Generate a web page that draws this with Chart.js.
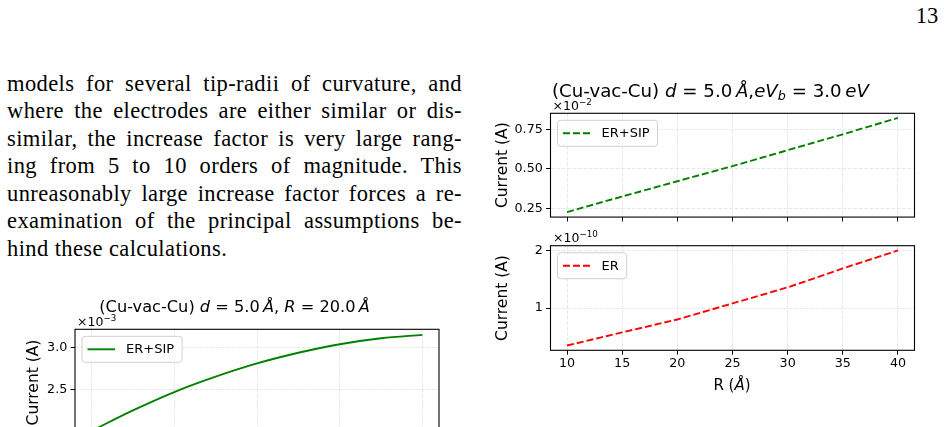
<!DOCTYPE html>
<html lang="en">
<head>
  <meta charset="UTF-8" />
  <title>Cu-vac-Cu tunnelling current</title>
  <script src="https://cdn.jsdelivr.net/npm/chart.js"></script>
  <style>
    html, body { margin: 0; padding: 0; background: #fff; }
    body { width: 944px; height: 427px; overflow: hidden; position: relative; }
    .page { position: absolute; font-family: 'Liberation Serif', serif; font-size: 22.5px; line-height: 27.5px; color: #000; }
    .bodytext { left: 7px; top: 69.6px; width: 455px; }
    .bodytext .line { white-space: nowrap; letter-spacing: 0.4px; }
    .pgnum { left: 880px; top: 1.6px; width: 58.3px; text-align: right; }
    .lbl { position: absolute; font-family: 'DejaVu Sans', sans-serif; white-space: nowrap; color: #000; }
    .ttl { font-size: 18.2px; line-height: 22px; }
    .ttl.small { font-size: 16.2px; line-height: 20px; }
    .off { font-size: 12.5px; line-height: 15px; }
    .axt { font-size: 15px; line-height: 18px; }
    sup { font-size: 0.7em; line-height: 0; vertical-align: 0.55em; }
    sub { font-size: 0.7em; line-height: 0; vertical-align: -0.25em; }
    canvas { position: absolute; }
  </style>
</head>
<body>

  <!-- page text -->
  <div class="page pgnum">13</div>
  <div class="page bodytext">
    <div class="line"><span>models for several tip-radii of curvature, and</span></div>
    <div class="line"><span>where the electrodes are either similar or dis-</span></div>
    <div class="line"><span>similar, the increase factor is very large rang-</span></div>
    <div class="line"><span>ing from 5 to 10 orders of magnitude.  This</span></div>
    <div class="line"><span>unreasonably large increase factor forces a re-</span></div>
    <div class="line"><span>examination of the principal assumptions be-</span></div>
    <div class="line last"><span>hind these calculations.</span></div>
  </div>

  <!-- charts -->
  <canvas id="erSipChart" width="450" height="130" style="left:480px;top:98px"></canvas>
  <canvas id="erChart" width="450" height="150" style="left:480px;top:230px"></canvas>
  <canvas id="biasChart" width="455" height="170" style="left:0px;top:314px"></canvas>

  <!-- titles, offsets, x label -->
  <div class="lbl ttl" style="left:552px;top:80px">(Cu-vac-Cu) <i>d</i> = 5.0&thinsp;<i>Å</i>,<i>eV</i><sub><i>b</i></sub> = 3.0&thinsp;<i>eV</i></div>
  <div class="lbl off" style="left:552.5px;top:97.8px">×10<sup>−2</sup></div>
  <div class="lbl off" style="left:553px;top:230.2px">×10<sup>−10</sup></div>
  <div class="lbl axt" style="left:682px;top:376px;width:100px;text-align:center">R (<i>Å</i>)</div>
  <div class="lbl ttl small" style="left:99.3px;top:296.7px">(Cu-vac-Cu) <i>d</i> = 5.0&thinsp;<i>Å</i>, <i>R</i> = 20.0&thinsp;<i>Å</i></div>
  <div class="lbl off" style="left:77px;top:313.8px">×10<sup>−3</sup></div>

  <script>
    // --- data (currents in units of the axis offset) ---
    const rValues = [10, 15, 20, 25, 30, 35, 40];                    // R (Å)
    const currentErSip = [0.229, 0.327, 0.423, 0.518, 0.618, 0.718, 0.821]; // x1e-2 A
    const currentEr = [0.345, 0.575, 0.80, 1.08, 1.36, 1.69, 2.004];        // x1e-10 A
    const biasValues = [1, 1.5, 2, 2.5, 3, 3.5, 4, 4.5, 5];
    const currentBias = [2.02, 2.26, 2.475, 2.655, 2.81, 2.935, 3.035, 3.105, 3.145]; // x1e-3 A

    // --- tick values / labels ---
    const rTicks = [10, 15, 20, 25, 30, 35, 40];
    const rTickLabels = ['10', '15', '20', '25', '30', '35', '40'];
    const erSipTicks = [0.25, 0.5, 0.75];
    const erSipTickLabels = ['0.25', '0.50', '0.75'];
    const erTicks = [1, 2];
    const erTickLabels = ['1', '2'];
    const biasTicks = [1, 2, 3, 4, 5];
    const biasTickLabels = ['1', '2', '3', '4', '5'];
    const biasYTicks = [2.0, 2.5, 3.0];
    const biasYTickLabels = ['2.0', '2.5', '3.0'];

    // justify the text lines like the typeset page
    document.querySelectorAll('.bodytext .line').forEach(el => {
      if (el.classList.contains('last')) return;
      const span = el.firstElementChild;
      const gaps = span.textContent.split(/ +/).length - 1;
      const extra = 455 - span.getBoundingClientRect().width;
      span.style.wordSpacing = (extra / gaps) + 'px';
    });

    Chart.defaults.font.family = "'DejaVu Sans', sans-serif";
    Chart.defaults.font.size = 12.7;
    Chart.defaults.color = '#000';

    // frame + legend inside the plot, matplotlib style
    const framePlugin = {
      id: 'frameLegend',
      afterDatasetsDraw(chart, args, opts) {
        const { ctx, chartArea: a } = chart;
        ctx.save();
        ctx.strokeStyle = '#000';
        ctx.lineWidth = 1.1;
        ctx.strokeRect(a.left, a.top, a.right - a.left, a.bottom - a.top);

        ctx.font = '13px "DejaVu Sans"';
        const tw = ctx.measureText(opts.text).width;
        const bx = a.left + 7, by = a.top + 7, bw = 44 + tw + 8, bh = 26;
        ctx.beginPath();
        ctx.roundRect(bx, by, bw, bh, 3);
        ctx.fillStyle = 'rgba(255,255,255,0.8)';
        ctx.fill();
        ctx.strokeStyle = '#d0d0d0';
        ctx.lineWidth = 1;
        ctx.stroke();

        ctx.beginPath();
        ctx.setLineDash(opts.dash);
        ctx.strokeStyle = opts.color;
        ctx.lineWidth = 1.9;
        ctx.moveTo(bx + 5.5, by + 13);
        ctx.lineTo(bx + 33, by + 13);
        ctx.stroke();
        ctx.setLineDash([]);

        ctx.fillStyle = '#000';
        ctx.textBaseline = 'middle';
        ctx.fillText(opts.text, bx + 44, by + 13.5);
        ctx.restore();
      }
    };

    function axis(min, max, ticks, labels, size, pad) {
      return {
        type: 'linear', min: min, max: max,
        afterBuildTicks: s => { s.ticks = ticks.map(v => ({ value: v })); },
        afterFit: s => { if (s.isHorizontal()) s.height = size; else s.width = size; },
        ticks: { autoSkip: false, maxRotation: 0, padding: pad, font: { size: 12.7 }, color: '#000',
                 callback: (v, i) => labels ? labels[i] : '' },
        grid: { color: '#e2e2e2', lineWidth: 0.8, tickLength: 4.4, tickColor: '#000', tickWidth: 1 },
        border: { display: false, dash: [3.8, 1.6] }
      };
    }

    function makeChart(id, box, area, yTitleX, xs, ys, color, dash, curved, legendText, xAxis, yAxis) {
      const lh = 18.6;
      const yScale = axis(yAxis.min, yAxis.max, yAxis.ticks, yAxis.labels, area.l - (yTitleX - lh / 2), 3.3);
      yScale.title = { display: true, text: 'Current (A)', padding: 0, font: { size: 15.5 }, color: '#000' };
      return new Chart(document.getElementById(id), {
        type: 'line',
        data: {
          datasets: [{
            data: xs.map((x, i) => ({ x: x, y: ys[i] })),
            borderColor: color,
            borderWidth: 1.9,
            borderDash: dash,
            pointRadius: 0,
            tension: curved ? 0.4 : 0,
            cubicInterpolationMode: curved ? 'monotone' : 'default'
          }]
        },
        options: {
          responsive: false,
          animation: false,
          layout: { padding: {
            left: yTitleX - lh / 2 - box.x,
            top: area.t - box.y,
            right: box.x + box.w - area.r,
            bottom: 0
          } },
          scales: {
            x: axis(xAxis.min, xAxis.max, xAxis.ticks, xAxis.labels, box.y + box.h - area.b, 1),
            y: yScale
          },
          plugins: {
            legend: { display: false },
            tooltip: { enabled: false },
            frameLegend: { text: legendText, color: color, dash: dash }
          }
        },
        plugins: [framePlugin]
      });
    }

    makeChart('erSipChart', { x: 480, y: 98, w: 450, h: 130 }, { l: 550.5, t: 113.3, r: 914.5, b: 217.7 }, 503,
      rValues, currentErSip, 'green', [7, 3], false, 'ER+SIP',
      { min: 8.5, max: 41.5, ticks: rTicks, labels: null },
      { min: 0.1975, max: 0.85, ticks: erSipTicks, labels: erSipTickLabels });

    makeChart('erChart', { x: 480, y: 230, w: 450, h: 150 }, { l: 550.5, t: 245.7, r: 914.5, b: 350.3 }, 503,
      rValues, currentEr, 'red', [7, 3], false, 'ER',
      { min: 8.5, max: 41.5, ticks: rTicks, labels: rTickLabels },
      { min: 0.262, max: 2.087, ticks: erTicks, labels: erTickLabels });

    makeChart('biasChart', { x: 0, y: 314, w: 455, h: 170 }, { l: 75, t: 329.3, r: 439, b: 435.7 }, 33.5,
      biasValues, currentBias, 'green', [], true, 'ER+SIP',
      { min: 0.8, max: 5.2, ticks: biasTicks, labels: biasTickLabels },
      { min: 1.964, max: 3.21, ticks: biasYTicks, labels: biasYTickLabels });
  </script>
</body>
</html>
